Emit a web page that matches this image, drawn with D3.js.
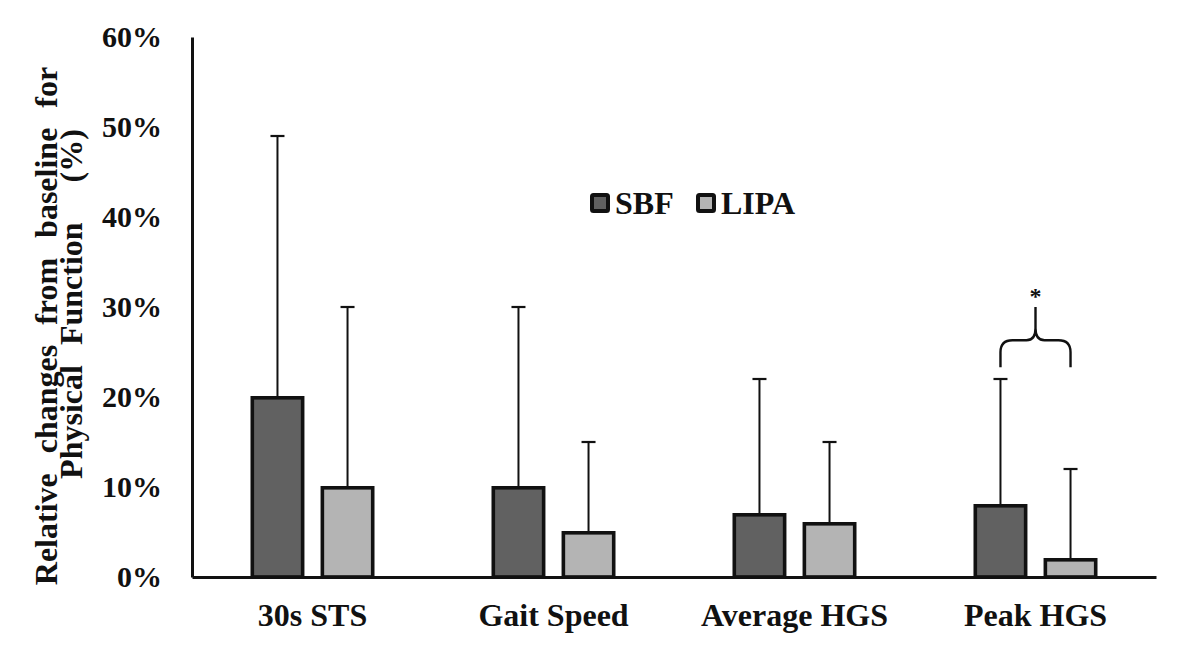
<!DOCTYPE html>
<html>
<head>
<meta charset="utf-8">
<script src="https://cdn.jsdelivr.net/npm/d3@7/dist/d3.min.js"></script>
<style>
  html, body { margin: 0; padding: 0; background: #fff; }
  svg { display: block; }
  text { font-family: "Liberation Serif", "Times New Roman", serif; font-weight: bold; fill: #111; }
</style>
</head>
<body>
<svg id="chart" width="1181" height="657"></svg>
<script>
// ---- data ----
const categories = ["30s STS", "Gait Speed", "Average HGS", "Peak HGS"];
const series = ["SBF", "LIPA"];
const sbfValues = [20, 10, 7, 8];        // mean relative change (%)
const lipaValues = [10, 5, 6, 2];
const sbfErrorTop = [49, 30, 22, 22];    // mean + SD (%)
const lipaErrorTop = [30, 15, 15, 12];
const yTicks = [0, 10, 20, 30, 40, 50, 60];
const seriesColors = ["#616161", "#b4b4b4"];
// significance annotation: Peak HGS, SBF vs LIPA
const sigCategory = "Peak HGS";
const sigBraceLevels = { bottom: 23.3, shoulder: 26.3, tip: 30 };
const sigLabel = "*";

// ---- layout ----
const svg = d3.select("#chart");
const plotL = 192, plotR = 1156, plotT = 37, plotB = 577;

const x = d3.scaleBand().domain(categories).range([plotL, plotR]).paddingInner(0).paddingOuter(0);
const bw = x.bandwidth();
const xSub = d3.scaleBand().domain(series).range([bw / 2 - 62, bw / 2 + 62]).paddingInner(0.23);
const y = d3.scaleLinear().domain([0, 60]).range([plotB, plotT]);

const rows = categories.map((c, i) => ({
  cat: c,
  vals: [
    { s: "SBF", v: sbfValues[i], e: sbfErrorTop[i] },
    { s: "LIPA", v: lipaValues[i], e: lipaErrorTop[i] }
  ]
}));

// error bars
const g = svg.append("g");
const capW = 14;
rows.forEach(r => {
  r.vals.forEach(d => {
    const cx = x(r.cat) + xSub(d.s) + xSub.bandwidth() / 2;
    g.append("line").attr("x1", cx).attr("x2", cx).attr("y1", y(d.v)).attr("y2", y(d.e))
      .attr("stroke", "#111").attr("stroke-width", 2);
    g.append("line").attr("x1", cx - capW / 2).attr("x2", cx + capW / 2).attr("y1", y(d.e)).attr("y2", y(d.e))
      .attr("stroke", "#111").attr("stroke-width", 2.2);
  });
});

// bars
const sw = 3.6;
rows.forEach(r => {
  r.vals.forEach((d, j) => {
    g.append("rect")
      .attr("x", x(r.cat) + xSub(d.s) + sw / 2)
      .attr("y", y(d.v) + sw / 2 - 1)
      .attr("width", xSub.bandwidth() - sw)
      .attr("height", y(0) - y(d.v) - sw / 2 + 1)
      .attr("fill", seriesColors[j])
      .attr("stroke", "#111")
      .attr("stroke-width", sw);
  });
});

// axes
const yAxis = d3.axisLeft(y).tickValues(yTicks).tickFormat(d => d + "%").tickSize(0).tickPadding(30);
const ya = svg.append("g").attr("transform", `translate(${plotL},0)`).call(yAxis);
ya.select(".domain").attr("stroke", "#111").attr("stroke-width", 3);
ya.selectAll("text").style("font-size", "30px").style("font-family", "Liberation Serif").style("font-weight", "bold").attr("fill", "#111");

const xAxis = d3.axisBottom(x).tickSize(0).tickPadding(26);
const xa = svg.append("g").attr("transform", `translate(0,${plotB})`).call(xAxis);
xa.select(".domain").attr("stroke", "#111").attr("stroke-width", 3);
xa.selectAll("text").style("font-size", "32px").style("font-family", "Liberation Serif").style("font-weight", "bold").attr("fill", "#111");

// y title
const titleLines = [
  { t: "Relative changes from baseline for", bx: 57, cy: 326 },
  { t: "Physical Function  (%)", bx: 82, cy: 304 }
];
titleLines.forEach(l => {
  svg.append("text")
    .attr("transform", `translate(${l.bx},${l.cy}) rotate(-90)`)
    .attr("text-anchor", "middle")
    .style("font-size", "32px")
    .style("word-spacing", "12px")
    .style("white-space", "pre")
    .text(l.t);
});

// legend
const legend = [
  { s: "SBF", sq: 590, tx: 615 },
  { s: "LIPA", sq: 696, tx: 721 }
];
legend.forEach((l, j) => {
  svg.append("rect").attr("x", l.sq + 2).attr("y", 195).attr("width", 16).attr("height", 16)
    .attr("fill", seriesColors[j]).attr("stroke", "#111").attr("stroke-width", 4).attr("rx", 1.5);
  svg.append("text").attr("x", l.tx).attr("y", 214).style("font-size", "32px").text(l.s);
});

// significance brace
const cxA = x(sigCategory) + xSub("SBF") + xSub.bandwidth() / 2;
const cxB = x(sigCategory) + xSub("LIPA") + xSub.bandwidth() / 2;
const mid = (cxA + cxB) / 2;
const yb = y(sigBraceLevels.bottom), ys = y(sigBraceLevels.shoulder), yt = y(sigBraceLevels.tip);
const r1 = 12, r2 = 9;
const p = d3.path();
p.moveTo(cxA, yb);
p.lineTo(cxA, ys + r1);
p.quadraticCurveTo(cxA, ys, cxA + r1, ys);
p.lineTo(mid - r2, ys);
p.quadraticCurveTo(mid, ys, mid, ys - r2 - 3);
p.lineTo(mid, yt);
p.moveTo(mid, ys - r2 - 3);
p.quadraticCurveTo(mid, ys, mid + r2, ys);
p.lineTo(cxB - r1, ys);
p.quadraticCurveTo(cxB, ys, cxB, ys + r1);
p.lineTo(cxB, yb);
svg.append("path").attr("d", p.toString()).attr("fill", "none").attr("stroke", "#111").attr("stroke-width", 2.4);
svg.append("text").attr("x", mid).attr("y", yt - 3).attr("text-anchor", "middle")
  .style("font-size", "24px").text(sigLabel);
</script>
</body>
</html>
